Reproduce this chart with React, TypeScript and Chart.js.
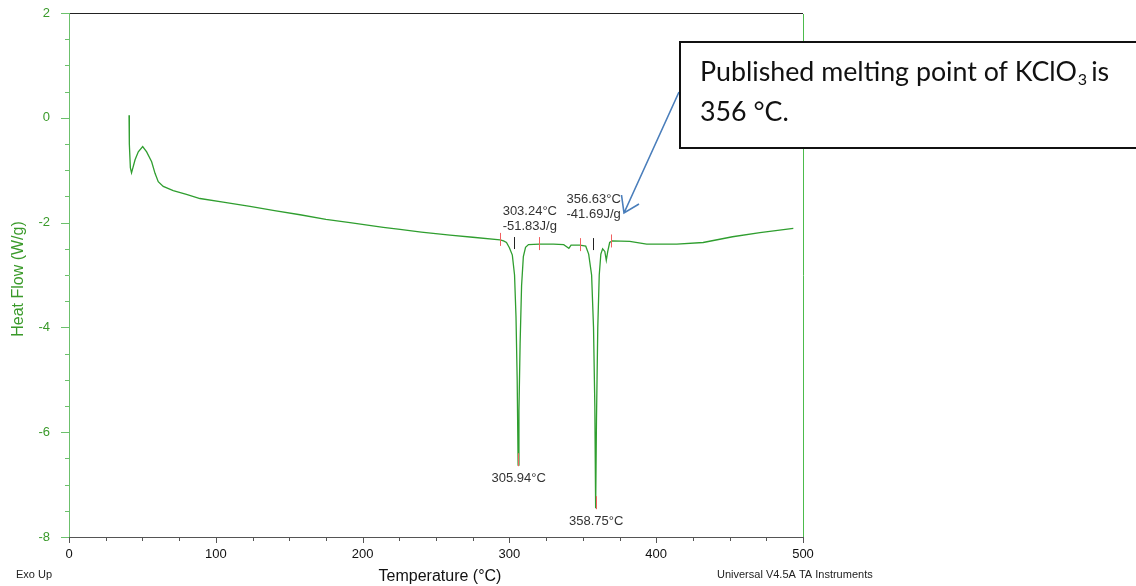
import React, { useEffect, useRef } from 'react';
import { Chart, registerables } from 'chart.js';

Chart.register(...registerables);

// ---- Data ----
const temperatures = [
  40.9, 41.1, 41.8, 42.6, 45, 47.2, 50.2, 52.9, 56.3, 58.6,
  60.8, 64.2, 71, 80, 89.2, 105, 123.3, 140, 157.4, 175,
  191.4, 214.1, 225.5, 240, 259.5, 275, 293.6, 296, 298, 300,
  302, 303.5, 304.5, 305.3, 305.94, 306.5, 307.3, 308.3, 309.5, 311,
  313, 320.4, 330, 337, 339, 340.5, 342, 348, 352, 354,
  356, 357.3, 358.2, 358.75, 359.3, 360.2, 361.2, 362.3, 363.5, 365,
  366, 367, 368.3, 370, 382, 393.5, 414, 432, 452, 470.7,
  493.4,
];
const heatFlow = [
  0.05, -0.5, -0.95, -1.05, -0.8, -0.65, -0.55, -0.65, -0.84, -1.06,
  -1.22, -1.31, -1.39, -1.46, -1.54, -1.61, -1.69, -1.77, -1.85, -1.94,
  -2.0, -2.09, -2.13, -2.18, -2.24, -2.28, -2.33, -2.35, -2.38, -2.48,
  -2.62, -3.0, -3.8, -5.0, -6.63, -5.6, -4.3, -3.2, -2.65, -2.47,
  -2.42, -2.41, -2.41, -2.42, -2.46, -2.49, -2.43, -2.43, -2.45, -2.6,
  -3.0, -4.0, -5.5, -7.45, -5.8, -4.0, -3.0, -2.6, -2.5, -2.55,
  -2.72, -2.55, -2.38, -2.35, -2.36, -2.41, -2.41, -2.38, -2.27, -2.19,
  -2.11,
];

const onsetTemps = [303.24, 356.63];
const onsetBaseFlow = [-2.39, -2.41];
const enthalpies = [-51.83, -41.69];
const peakTemps = [305.94, 358.75];
const peakFlows = [-6.63, -7.45];
const limitTemps = [293.6, 320.4, 348, 369];
const limitFlows = [-2.33, -2.41, -2.43, -2.36];

const xTitle = 'Temperature (°C)';
const yTitle = 'Heat Flow (W/g)';
const footLeft = 'Exo Up';
const footRight = 'Universal V4.5A TA Instruments';
const calloutLine1 = 'Published melting point of KClO';
const calloutSub = '3';
const calloutLine1End = 'is';
const calloutLine2 = '356 °C.';

// ---- Styles ----
const FONT = '"Liberation Sans", Arial, sans-serif';
const CALLOUT_FONT = 'Lato, "Open Sans", sans-serif';
const CURVE = '#2f9e2f';
const GREEN_TEXT = '#3a9a2a';
const GREEN_AXIS = '#6cc06c';
const GREEN_RIGHT = '#4cbb4c';
const ARROW = '#4a7ebb';
const onsetLabelOffsets = [-11.5, -26];
const onsetLabelY = [211.5, 199.5];

const overlay = {
  id: 'tainstruments-overlay',
  afterDraw(chart: any) {
    const ctx: CanvasRenderingContext2D = chart.ctx;
    const xs = chart.scales.x;
    const ys = chart.scales.y;
    const area = chart.chartArea;
    ctx.save();

    // frame: top black, left green, bottom gray, right green
    ctx.lineWidth = 1;
    ctx.strokeStyle = '#222';
    ctx.beginPath();
    ctx.moveTo(area.left, Math.round(area.top) + 0.5);
    ctx.lineTo(area.right, Math.round(area.top) + 0.5);
    ctx.stroke();
    ctx.strokeStyle = GREEN_AXIS;
    ctx.beginPath();
    ctx.moveTo(Math.round(area.left) + 0.5, area.top);
    ctx.lineTo(Math.round(area.left) + 0.5, area.bottom + 1);
    ctx.stroke();
    ctx.strokeStyle = '#555';
    ctx.beginPath();
    ctx.moveTo(area.left, Math.round(area.bottom) + 0.5);
    ctx.lineTo(area.right, Math.round(area.bottom) + 0.5);
    ctx.stroke();
    ctx.strokeStyle = GREEN_RIGHT;
    ctx.beginPath();
    ctx.moveTo(Math.round(area.right) + 0.5, area.top + 1);
    ctx.lineTo(Math.round(area.right) + 0.5, area.bottom);
    ctx.stroke();

    // y ticks
    ctx.strokeStyle = GREEN_AXIS;
    ys.ticks.forEach((t: any) => {
      const y = Math.round(ys.getPixelForValue(t.value)) + 0.5;
      const major = Math.abs(t.value % 2) < 1e-9;
      ctx.beginPath();
      ctx.moveTo(area.left - (major ? 8 : 4), y);
      ctx.lineTo(area.left, y);
      ctx.stroke();
    });
    // x ticks
    ctx.strokeStyle = '#555';
    xs.ticks.forEach((t: any) => {
      const x = Math.round(xs.getPixelForValue(t.value)) + 0.5;
      const major = Math.abs(t.value % 100) < 1e-9;
      ctx.beginPath();
      ctx.moveTo(x, area.bottom);
      ctx.lineTo(x, area.bottom + (major ? 6 : 4));
      ctx.stroke();
    });

    // limit markers (red)
    ctx.strokeStyle = '#f06060';
    limitTemps.forEach((t, i) => {
      const x = Math.round(xs.getPixelForValue(t)) + 0.5;
      const y = ys.getPixelForValue(limitFlows[i]);
      ctx.beginPath();
      ctx.moveTo(x, y - 7);
      ctx.lineTo(x, y + 6);
      ctx.stroke();
    });
    // peak bottoms (red)
    peakTemps.forEach((t, i) => {
      const x = Math.round(xs.getPixelForValue(t)) + 0.5;
      const y = ys.getPixelForValue(peakFlows[i]);
      ctx.beginPath();
      ctx.moveTo(x, y - 12);
      ctx.lineTo(x, y + 1);
      ctx.stroke();
    });
    // onset markers (black)
    ctx.strokeStyle = '#222';
    onsetTemps.forEach((t, i) => {
      const x = Math.round(xs.getPixelForValue(t)) + 0.5;
      const y = ys.getPixelForValue(onsetBaseFlow[i]);
      ctx.beginPath();
      ctx.moveTo(x, y - 6);
      ctx.lineTo(x, y + 6);
      ctx.stroke();
    });

    // annotation texts
    ctx.fillStyle = '#333';
    ctx.font = `13px ${FONT}`;
    ctx.textBaseline = 'middle';
    ctx.textAlign = 'left';
    onsetTemps.forEach((t, i) => {
      const x = xs.getPixelForValue(t) + onsetLabelOffsets[i];
      const y = onsetLabelY[i];
      ctx.fillText(`${t.toFixed(2)}°C`, x, y);
      ctx.fillText(`${enthalpies[i].toFixed(2)}J/g`, x, y + 15);
    });
    ctx.textAlign = 'center';
    peakTemps.forEach((t, i) => {
      const x = xs.getPixelForValue(t) + 0.5;
      const y = ys.getPixelForValue(peakFlows[i]) + 13;
      ctx.fillText(`${t.toFixed(2)}°C`, x, y);
    });

    // titles
    ctx.fillStyle = '#111';
    ctx.font = `16px ${FONT}`;
    ctx.textAlign = 'center';
    ctx.fillText(xTitle, 440, 577);
    ctx.save();
    ctx.translate(19, 279);
    ctx.rotate(-Math.PI / 2);
    ctx.fillStyle = GREEN_TEXT;
    ctx.fillText(yTitle, 0, 0);
    ctx.restore();

    ctx.fillStyle = '#222';
    ctx.font = `11px ${FONT}`;
    ctx.textAlign = 'left';
    ctx.fillText(footLeft, 16, 575);
    ctx.fillText(footRight, 717, 575);

    // arrow
    ctx.strokeStyle = ARROW;
    ctx.lineWidth = 1.6;
    ctx.beginPath();
    ctx.moveTo(679, 92);
    ctx.lineTo(624, 213);
    ctx.moveTo(621.5, 195);
    ctx.lineTo(624, 213);
    ctx.lineTo(639, 204);
    ctx.stroke();

    // callout box
    ctx.fillStyle = '#fff';
    ctx.fillRect(679, 41, 470, 107);
    ctx.strokeStyle = '#111';
    ctx.lineWidth = 2;
    ctx.strokeRect(680, 42, 470, 106);

    ctx.fillStyle = '#111';
    ctx.textBaseline = 'alphabetic';
    ctx.textAlign = 'left';
    let size = 26;
    ctx.font = `${size}px ${CALLOUT_FONT}`;
    const w = ctx.measureText(calloutLine1).width;
    size = size * (377 / w);
    ctx.font = `${size}px ${CALLOUT_FONT}`;
    ctx.fillText(calloutLine1, 700, 81);
    let x = 700 + ctx.measureText(calloutLine1).width;
    ctx.font = `${size * 0.6}px ${CALLOUT_FONT}`;
    ctx.fillText(calloutSub, x + 1, 85);
    x += ctx.measureText(calloutSub).width + 1;
    ctx.font = `${size}px ${CALLOUT_FONT}`;
    ctx.fillText(calloutLine1End, x + 4, 81);
    ctx.fillText(calloutLine2, 700, 121);

    ctx.restore();
  },
};

export default function App() {
  const ref = useRef<HTMLCanvasElement>(null);
  useEffect(() => {
    const canvas = ref.current;
    if (!canvas) return;
    const chart = new Chart(canvas, {
      type: 'line',
      data: {
        datasets: [
          {
            data: temperatures.map((t, i) => ({ x: t, y: heatFlow[i] })),
            borderColor: CURVE,
            borderWidth: 1.3,
            pointRadius: 0,
            tension: 0,
            fill: false,
          },
        ],
      },
      options: {
        animation: false,
        responsive: false,
        devicePixelRatio: 1,
        layout: { padding: { top: 13, right: 333, left: 0, bottom: 0 } },
        plugins: { legend: { display: false }, tooltip: { enabled: false } },
        scales: {
          x: {
            type: 'linear',
            min: 0,
            max: 500,
            position: 'bottom',
            afterFit: (s: any) => {
              s.height = 49;
              s.paddingLeft = 0;
              s.paddingRight = 0;
            },
            ticks: {
              stepSize: 25,
              autoSkip: false,
              maxRotation: 0,
              color: '#111',
              padding: 2,
              font: { family: FONT, size: 13 },
              callback: (v: any) => (Number(v) % 100 === 0 ? String(v) : ''),
            },
            grid: { display: false },
            border: { display: false },
          },
          y: {
            type: 'linear',
            min: -8,
            max: 2,
            afterFit: (s: any) => {
              s.width = 69;
              s.paddingTop = 0;
              s.paddingBottom = 0;
            },
            ticks: {
              stepSize: 0.5,
              autoSkip: false,
              color: GREEN_TEXT,
              padding: 11,
              font: { family: FONT, size: 13 },
              callback: (v: any) => (Number(v) % 2 === 0 ? String(Number(v)) : ''),
            },
            grid: { display: false },
            border: { display: false },
          },
        },
      } as any,
      plugins: [overlay],
    });
    return () => chart.destroy();
  }, []);

  return (
    <div style={{ position: 'absolute', left: 0, top: 0, width: 1136, height: 586, background: '#fff' }}>
      <canvas ref={ref} width={1136} height={586} style={{ display: 'block' }} />
    </div>
  );
}
